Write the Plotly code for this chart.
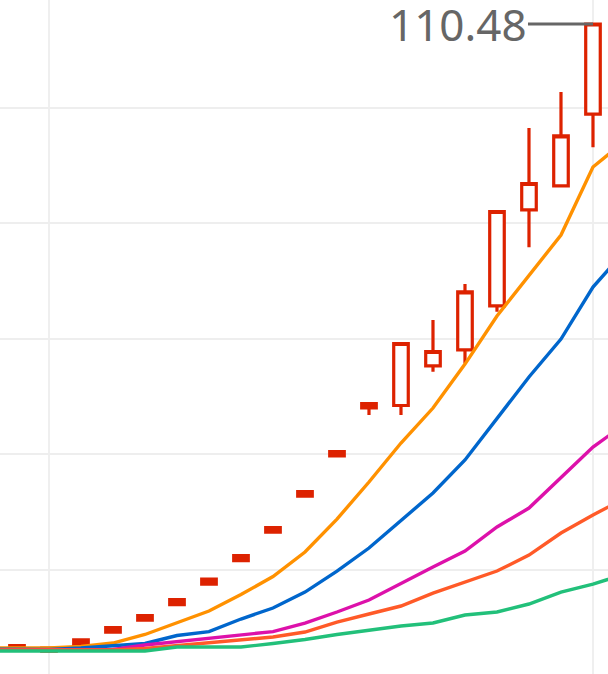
import plotly.graph_objects as go

# ---- data ----
periods = list(range(21))            # trading periods; candles exist for periods 1..19
candle_periods = periods[1:20]

candle_open = [29.77, 29.44, 30.51, 32.10, 33.66, 35.74, 38.38, 41.45, 45.09, 49.77,
               54.96, 61.20, 60.94, 66.09, 68.17, 73.88, 86.35, 89.47, 98.77]
candle_close = [29.25, 29.05, 29.93, 31.49, 33.05, 35.09, 37.73, 40.80, 44.48, 49.16,
                54.40, 60.64, 68.99, 67.95, 75.70, 86.13, 89.77, 95.96, 110.48]
candle_high = [29.77, 29.44, 30.51, 32.10, 33.66, 35.74, 38.38, 41.45, 45.09, 49.77,
               54.96, 61.20, 68.99, 72.04, 76.71, 86.13, 96.97, 101.65, 110.48]
candle_low = [29.25, 29.05, 29.93, 31.49, 33.05, 35.09, 37.73, 40.80, 44.48, 49.16,
              54.40, 59.70, 59.70, 65.32, 66.42, 73.12, 81.48, 89.47, 94.47]

ma_a = [29.44, 29.44, 29.44, 29.64, 30.09, 31.20, 32.69, 34.25, 36.39, 38.73, 41.91,
        46.19, 51.00, 56.07, 60.61, 66.32, 72.56, 77.75, 83.08, 91.91, 95.29]
ma_b = [29.31, 29.31, 29.25, 29.44, 29.70, 30.03, 31.07, 31.58, 33.21, 34.64, 36.71,
        39.44, 42.43, 45.93, 49.57, 53.86, 59.18, 64.64, 69.57, 76.32, 81.00]
ma_c = [29.18, 29.18, 29.18, 29.18, 29.25, 29.83, 30.29, 30.68, 31.13, 31.58, 32.69,
        34.12, 35.68, 37.88, 39.96, 42.04, 45.16, 47.62, 51.52, 55.55, 58.53]
ma_d = [29.18, 29.18, 29.18, 29.18, 29.18, 29.38, 29.77, 30.09, 30.48, 30.87, 31.52,
        32.82, 33.86, 34.90, 36.58, 38.01, 39.44, 41.52, 44.38, 46.71, 48.92]
ma_e = [29.05, 29.05, 29.05, 29.05, 29.05, 29.05, 29.57, 29.57, 29.57, 30.03, 30.55,
        31.20, 31.78, 32.30, 32.69, 33.73, 34.12, 35.16, 36.71, 37.75, 39.05]

RED = "#dd2200"
line_colors = ["#ff9100", "#0066cc", "#dd11aa", "#ff5a28", "#22c07a"]
ma_series = [ma_a, ma_b, ma_c, ma_d, ma_e]

fig = go.Figure()
fig.add_trace(go.Candlestick(
    x=candle_periods, open=candle_open, high=candle_high, low=candle_low, close=candle_close,
    increasing=dict(line=dict(color=RED, width=3.2), fillcolor="white"),
    decreasing=dict(line=dict(color=RED, width=3.2), fillcolor=RED),
    whiskerwidth=0, showlegend=False, hoverinfo="skip",
))
for s, c in zip(ma_series, line_colors):
    fig.add_trace(go.Scatter(x=periods, y=s, mode="lines",
                             line=dict(color=c, width=3.4), showlegend=False, hoverinfo="skip"))

# max label
imax = max(range(len(candle_high)), key=lambda i: candle_high[i])
fig.add_annotation(
    x=candle_periods[imax], y=candle_high[imax], text=f"{candle_high[imax]:.2f}",
    showarrow=True, arrowhead=0, arrowwidth=3, arrowcolor="#666666",
    ax=-65, ay=0, xanchor="right", yanchor="middle", standoff=0, borderpad=0,
    font=dict(family="Noto Sans", size=44, color="#666666"),
)

fig.update_layout(
    width=608, height=674,
    margin=dict(l=0, r=0, t=0, b=0),
    paper_bgcolor="white", plot_bgcolor="white",
    boxgap=0.35,
    showlegend=False,
    xaxis=dict(range=[0.469, 19.469], tickmode="array", tickvals=[2, 19],
               showticklabels=False, showgrid=True, gridcolor="#efefef", gridwidth=1.5,
               zeroline=False, showline=False, rangeslider=dict(visible=False), fixedrange=True),
    yaxis=dict(range=[26.07, 113.60], tickmode="linear", tick0=99.6, dtick=15,
               showticklabels=False, showgrid=True, gridcolor="#eeeeee", gridwidth=1.5,
               zeroline=False, showline=False, fixedrange=True),
)

fig.write_html("out.html", config={"displayModeBar": False},
               post_script="document.body.style.margin='0';document.body.style.overflow='hidden';")
